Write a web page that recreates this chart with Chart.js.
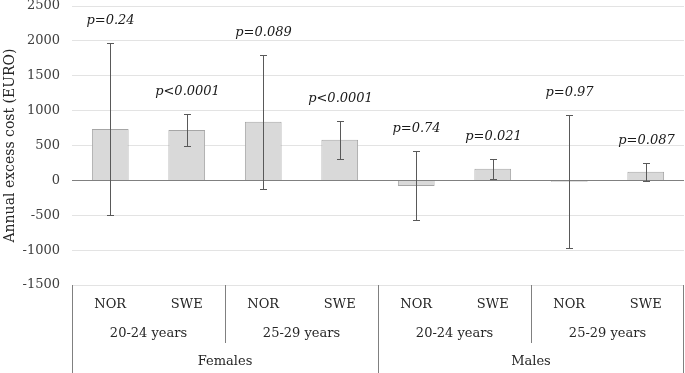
<!DOCTYPE html>
<html>
<head>
<meta charset="utf-8">
<script src="https://cdn.jsdelivr.net/npm/chart.js@4"></script>
<style>
  html, body { margin: 0; padding: 0; background: #fff; }
  #wrap { width: 685px; height: 373px; }
</style>
</head>
<body>
<div id="wrap"><canvas id="chart"></canvas></div>
<script>
const countries = ["NOR", "SWE", "NOR", "SWE", "NOR", "SWE", "NOR", "SWE"];
const ageGroups = ["20-24 years", "25-29 years", "20-24 years", "25-29 years"];
const sexes = ["Females", "Males"];
const excessCost = [738, 724, 839, 581, -80, 167, -20, 124];
const ciLow = [-490, 496, -120, 310, -571, 24, -976, -14];
const ciHigh = [1967, 953, 1800, 853, 419, 310, 943, 253];
const pValues = ["p=0.24", "p<0.0001", "p=0.089", "p<0.0001", "p=0.74", "p=0.021", "p=0.97", "p=0.087"];
const yTicks = [-1500, -1000, -500, 0, 500, 1000, 1500, 2000, 2500];

const serif = "'DejaVu Serif', 'Liberation Serif', serif";

// zero line on top of bars, error bars, p-value labels
const errorBars = {
  id: "errorBars",
  afterDatasetsDraw(chart) {
    const { ctx, chartArea, scales: { x, y } } = chart;
    ctx.save();
    const y0 = Math.round(y.getPixelForValue(0)) + 0.5;
    ctx.strokeStyle = "#808080";
    ctx.lineWidth = 1.2;
    ctx.beginPath();
    ctx.moveTo(chartArea.left, y0);
    ctx.lineTo(chartArea.right, y0);
    ctx.stroke();

    ctx.strokeStyle = "#595959";
    ctx.lineWidth = 1;
    for (let i = 0; i < excessCost.length; i++) {
      const px = Math.round(x.getPixelForValue(i)) + 0.5;
      const lo = Math.round(y.getPixelForValue(ciLow[i])) + 0.5;
      const hi = Math.round(y.getPixelForValue(ciHigh[i])) + 0.5;
      ctx.beginPath();
      ctx.moveTo(px, lo); ctx.lineTo(px, hi);
      ctx.moveTo(px - 3.5, lo); ctx.lineTo(px + 3.5, lo);
      ctx.moveTo(px - 3.5, hi); ctx.lineTo(px + 3.5, hi);
      ctx.stroke();

      ctx.fillStyle = "#1a1a1a";
      ctx.font = "italic 13px " + serif;
      ctx.textAlign = "center";
      ctx.textBaseline = "middle";
      ctx.fillText(pValues[i], px, hi - 23);
    }
    ctx.restore();
  }
};

// multi-level category axis below the plot
const groupAxis = {
  id: "groupAxis",
  afterDraw(chart) {
    const { ctx, chartArea, scales: { x } } = chart;
    const bottom = chartArea.bottom;
    const n = countries.length;
    const step = (chartArea.right - chartArea.left) / n;
    ctx.save();
    ctx.strokeStyle = "#808080";
    ctx.lineWidth = 1;
    ctx.fillStyle = "#262626";
    ctx.textAlign = "center";
    ctx.textBaseline = "middle";
    ctx.font = "13px " + serif;

    for (let i = 0; i < n; i++) {
      ctx.fillText(countries[i], x.getPixelForValue(i), bottom + 20);
    }
    ageGroups.forEach((label, g) => {
      const cx = (x.getPixelForValue(g * 2) + x.getPixelForValue(g * 2 + 1)) / 2;
      ctx.fillText(label, cx, bottom + 49);
    });
    sexes.forEach((label, s) => {
      const cx = (x.getPixelForValue(s * 4 + 1) + x.getPixelForValue(s * 4 + 2)) / 2;
      ctx.fillText(label, cx, bottom + 77);
    });

    for (let k = 0; k <= n; k += 2) {
      const lx = Math.round(chartArea.left + k * step) - 0.5 + (k === n ? 0 : 1);
      const len = k % 4 === 0 ? 88 : 58;
      ctx.beginPath();
      ctx.moveTo(lx, bottom);
      ctx.lineTo(lx, bottom + len);
      ctx.stroke();
    }
    ctx.restore();
  }
};

new Chart(document.getElementById("chart"), {
  type: "bar",
  data: {
    labels: countries,
    datasets: [{
      data: excessCost,
      backgroundColor: "#d9d9d9",
      borderColor: "#a6a6a6",
      borderWidth: 1,
      categoryPercentage: 1,
      barPercentage: 0.48
    }]
  },
  options: {
    responsive: true,
    maintainAspectRatio: false,
    animation: false,
    layout: { padding: { top: 6, right: 1, bottom: 88, left: 2 } },
    plugins: {
      legend: { display: false },
      tooltip: { enabled: false }
    },
    scales: {
      x: {
        display: false
      },
      y: {
        min: -1500,
        max: 2500,
        afterBuildTicks: (scale) => { scale.ticks = yTicks.map(v => ({ value: v })); },
        afterFit: (scale) => {
          scale.width = 70;
          scale.paddingTop = 0;
          scale.paddingBottom = 0;
        },
        ticks: {
          color: "#404040",
          font: { family: serif, size: 13 },
          padding: 12,
          callback: (v) => String(v)
        },
        grid: {
          color: "#e3e3e3",
          lineWidth: 1,
          drawTicks: false
        },
        border: { display: false },
        title: {
          display: true,
          text: "Annual excess cost (EURO)",
          color: "#262626",
          font: { family: serif, size: 14 },
          padding: { top: 0, bottom: 0 }
        }
      }
    }
  },
  plugins: [errorBars, groupAxis]
});
</script>
</body>
</html>
